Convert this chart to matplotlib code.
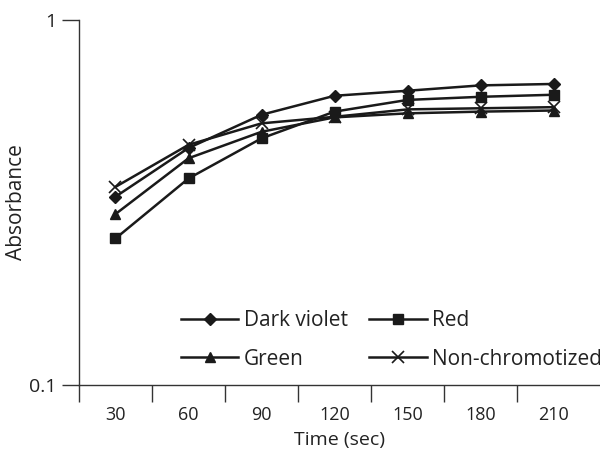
import numpy as np
import matplotlib.pyplot as plt
from matplotlib.ticker import FixedLocator, NullLocator

plt.rcParams['font.family'] = ['Open Sans', 'DejaVu Sans']

times = ['30', '60', '90', '120', '150', '180', '210']
dark_violet = [0.328, 0.446, 0.55, 0.62, 0.64, 0.662, 0.668]
red = [0.252, 0.368, 0.474, 0.561, 0.604, 0.616, 0.624]
green = [0.294, 0.418, 0.494, 0.541, 0.555, 0.561, 0.565]
non_chrom = [0.349, 0.455, 0.521, 0.543, 0.569, 0.573, 0.577]

fig = plt.figure(figsize=(6, 4.53), dpi=100)
ax = fig.add_axes([79/600, 1 - 385/453, 1 - 79/600, (385 - 20)/453])

x = np.arange(len(times))
c = '#1a1a1a'
h_dv, = ax.plot(x, dark_violet, color=c, lw=1.8, marker='D', ms=6, label='Dark violet')
h_r, = ax.plot(x, red, color=c, lw=1.8, marker='s', ms=6.5, label='Red')
h_g, = ax.plot(x, green, color=c, lw=1.8, marker='^', ms=7.5, label='Green')
h_n, = ax.plot(x, non_chrom, color=c, lw=1.8, marker='x', ms=8, mew=1.2, label='Non-chromotized')

ax.set_yscale('log')
ax.set_ylim(0.1, 1)
ax.yaxis.set_major_locator(FixedLocator([0.1, 1]))
ax.yaxis.set_minor_locator(NullLocator())
ax.set_yticklabels(['0.1', '1'])

ax.set_xlim(-0.5, 6.5 + (600 - 590) / 73)
ax.set_xticks(np.arange(-0.5, 6.0, 1.0))
ax.set_xticklabels([])
ax.set_xticks(x, minor=True)
ax.set_xticklabels(times, minor=True)
ax.tick_params(axis='x', which='major', length=12, width=1, color='#333333', direction='out')
ax.tick_params(axis='x', which='minor', length=0, pad=15, labelsize=13, labelcolor='#222222')
ax.tick_params(axis='y', length=12, width=1, color='#333333', pad=4, labelsize=14, labelcolor='#222222')

for s in ['top', 'right']:
    ax.spines[s].set_visible(False)
for s in ['left', 'bottom']:
    ax.spines[s].set_color('#333333')
    ax.spines[s].set_linewidth(1)

ax.set_xlabel('Time (sec)', fontsize=14, color='#222222', labelpad=5)
ax.set_ylabel('Absorbance', fontsize=15, color='#222222', va='center')
ax.yaxis.set_label_coords(-62/521, 0.5)

# legend is filled row by row in the reference
leg = ax.legend([h_dv, h_g, h_r, h_n], ['Dark violet', 'Green', 'Red', 'Non-chromotized'],
                ncol=2, loc='upper left', bbox_to_anchor=(181/600, 1 - 310/453),
                bbox_transform=fig.transFigure, frameon=False, fontsize=15,
                handlelength=2.75, handletextpad=0.25, columnspacing=1.05,
                labelspacing=0.85, borderpad=0, borderaxespad=0)
for t in leg.get_texts():
    t.set_color('#222222')

fig.savefig('out.png', dpi=100)
